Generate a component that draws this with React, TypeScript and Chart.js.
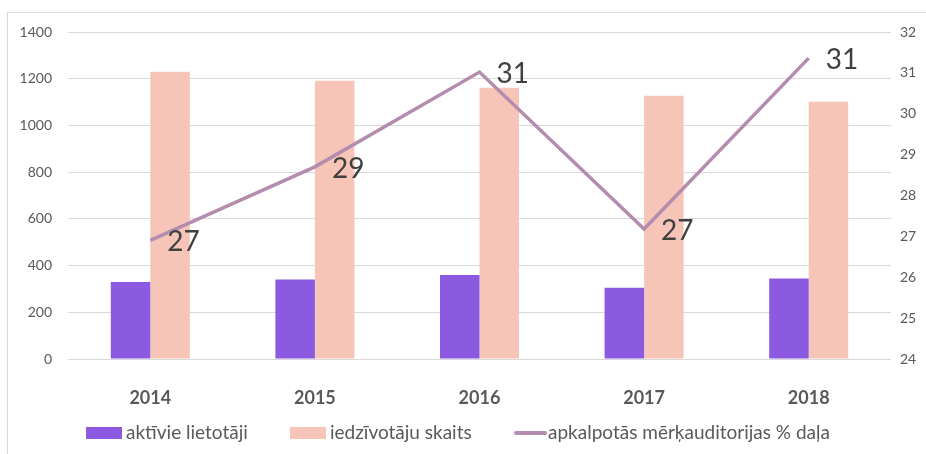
import React, { useEffect, useRef } from "react";
import { Chart, registerables } from "chart.js";

Chart.register(...registerables);

const years = ["2014", "2015", "2016", "2017", "2018"];
const activeUsers = [330, 340, 360, 305, 345];
const population = [1230, 1191, 1161, 1127, 1101];
const sharePct = [26.9, 28.7, 31.02, 27.18, 31.36];
const shareLabels = ["27", "29", "31", "27", "31"];
const legendLabels = ["aktīvie lietotāji", "iedzīvotāju skaits", "apkalpotās mērķauditorijas % daļa"];

const PURPLE = "#8b5ae1";
const PINK = "#f7c5b8";
const MAUVE = "#b38cae";
const FONT = "Lato, 'Open Sans', sans-serif";

const framePlugin = {
  id: "frame",
  beforeDraw(chart: any) {
    const ctx = chart.ctx;
    ctx.save();
    ctx.strokeStyle = "#d9d9d9";
    ctx.lineWidth = 1;
    ctx.strokeRect(7.5, 12.5, chart.width + 20, chart.height + 20);
    ctx.restore();
  },
};

const labelPlugin = {
  id: "pctLabels",
  afterDatasetsDraw(chart: any) {
    const ctx = chart.ctx;
    const meta = chart.getDatasetMeta(2);
    ctx.save();
    ctx.fillStyle = "#404040";
    ctx.font = `28px ${FONT}`;
    ctx.textAlign = "left";
    ctx.textBaseline = "middle";
    meta.data.forEach((pt: any, i: number) => {
      ctx.fillText(shareLabels[i], pt.x + 17, pt.y + 2);
    });
    ctx.restore();
  },
};

const legendPlugin = {
  id: "customLegend",
  afterDraw(chart: any) {
    const ctx = chart.ctx;
    ctx.save();
    ctx.font = `19px ${FONT}`;
    ctx.textBaseline = "middle";
    ctx.textAlign = "left";
    const y = 433;
    ctx.fillStyle = PURPLE;
    ctx.fillRect(86, y - 6, 36, 12);
    ctx.fillStyle = "#595959";
    ctx.fillText(legendLabels[0], 126, y);
    ctx.fillStyle = PINK;
    ctx.fillRect(290, y - 6, 36, 12);
    ctx.fillStyle = "#595959";
    ctx.fillText(legendLabels[1], 330, y);
    ctx.strokeStyle = MAUVE;
    ctx.lineWidth = 4;
    ctx.lineCap = "round";
    ctx.beginPath();
    ctx.moveTo(516, y);
    ctx.lineTo(545, y);
    ctx.stroke();
    ctx.fillText(legendLabels[2], 548, y);
    ctx.restore();
  },
};

export default function App() {
  const ref = useRef<HTMLCanvasElement>(null);
  useEffect(() => {
    document.body.style.margin = "0";
    const chart = new Chart(ref.current!, {
      type: "bar",
      data: {
        labels: years,
        datasets: [
          {
            type: "bar",
            label: legendLabels[0],
            data: activeUsers,
            backgroundColor: PURPLE,
            yAxisID: "y",
            order: 2,
            categoryPercentage: 0.48,
            barPercentage: 1,
          },
          {
            type: "bar",
            label: legendLabels[1],
            data: population,
            backgroundColor: PINK,
            yAxisID: "y",
            order: 2,
            categoryPercentage: 0.48,
            barPercentage: 1,
          },
          {
            type: "line",
            label: legendLabels[2],
            data: sharePct,
            borderColor: MAUVE,
            borderWidth: 3.5,
            pointRadius: 0,
            tension: 0,
            yAxisID: "y1",
            order: 0,
          } as any,
        ],
      },
      options: {
        responsive: false,
        animation: false,
        layout: { padding: { top: 32, left: 0, right: 0, bottom: 0 } },
        plugins: { legend: { display: false }, tooltip: { enabled: false } },
        scales: {
          x: {
            grid: { display: false },
            border: { display: false },
            ticks: { color: "#595959", font: { family: FONT, size: 18, weight: "bold" }, padding: 20 },
            afterFit(s: any) { s.height = 95; },
          },
          y: {
            position: "left",
            min: 0,
            max: 1400,
            ticks: {
              stepSize: 200,
              color: "#595959",
              font: { family: FONT, size: 14 },
              padding: 16,
              callback: (v: any) => String(v),
            },
            grid: { color: "#d9d9d9", drawTicks: false, lineWidth: 1 },
            border: { display: false },
            afterFit(s: any) { s.width = 68; },
          },
          y1: {
            position: "right",
            min: 24,
            max: 32,
            ticks: { stepSize: 1, color: "#595959", font: { family: FONT, size: 14 }, padding: 9 },
            grid: { display: false, drawTicks: false },
            border: { display: false },
            afterFit(s: any) { s.width = 35; },
          },
        },
      },
      plugins: [framePlugin, labelPlugin, legendPlugin],
    });
    return () => chart.destroy();
  }, []);
  return (
    <div style={{ position: "absolute", left: 0, top: 0, width: 926, height: 454, background: "#fff" }}>
      <canvas ref={ref} width={926} height={454} style={{ display: "block" }} />
    </div>
  );
}
